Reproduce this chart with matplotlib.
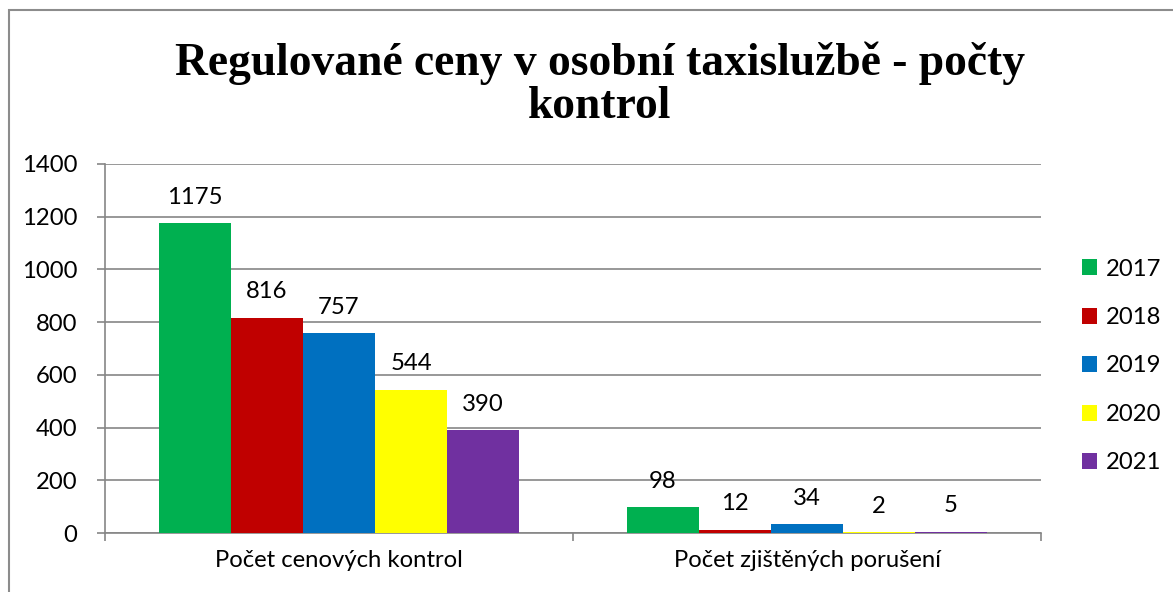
import matplotlib
matplotlib.use("Agg")
import matplotlib.pyplot as plt
from matplotlib.patches import Rectangle
import numpy as np

categories = ["Počet cenových kontrol", "Počet zjištěných porušení"]
years = ["2017", "2018", "2019", "2020", "2021"]
v2017 = [1175, 98]
v2018 = [816, 12]
v2019 = [757, 34]
v2020 = [544, 2]
v2021 = [390, 5]
series = [v2017, v2018, v2019, v2020, v2021]
colors = ["#00B050", "#C00000", "#0070C0", "#FFFF00", "#7030A0"]
yticks = [0, 200, 400, 600, 800, 1000, 1200, 1400]
title_lines = ["Regulované ceny v osobní taxislužbě - počty", "kontrol"]

W, H = 1173, 592
fig = plt.figure(figsize=(W / 100, H / 100), dpi=100)
ax = fig.add_axes([105 / W, 59 / H, 936 / W, 369 / H])

font = "Lato"
fs = 17.2
grid_c = "#868686"

x = np.arange(len(categories))
w = 1 / 6.5
for i, (vals, c, yr) in enumerate(zip(series, colors, years)):
    xs = x + (i - 2) * w
    ax.bar(xs, vals, width=w, color=c, label=yr, zorder=3, linewidth=0)
    for xi, v in zip(xs, vals):
        ax.annotate(str(v), (xi, v), xytext=(0, 26), textcoords="offset pixels",
                    ha="center", va="center", fontsize=fs, family=font, color="black")

ax.set_xlim(-0.5, 1.5)
ax.set_ylim(0, 1400)
ax.set_yticks(yticks)
ax.set_yticklabels([str(t) for t in yticks], fontsize=fs, family=font)
ax.set_xticks([-0.5, 0.5, 1.5])
ax.set_xticklabels([])
ax.set_xticks(x, minor=True)
ax.set_xticklabels(categories, minor=True, fontsize=fs, family=font)
ax.tick_params(axis="x", which="minor", length=0, pad=12)
ax.tick_params(axis="x", which="major", length=6, width=1.2, color=grid_c, direction="out")
ax.tick_params(axis="y", length=6, width=1.2, color=grid_c, direction="out", pad=14)
ax.grid(axis="y", color=grid_c, linewidth=1.2, zorder=0)
for s in ["top", "right"]:
    ax.spines[s].set_visible(False)
for s in ["left", "bottom"]:
    ax.spines[s].set_color(grid_c)
    ax.spines[s].set_linewidth(1.2)

for k, line in enumerate(title_lines):
    fig.text(600 / W, 1 - (63 + 44 * k) / H, line, ha="center", va="center", fontsize=32.8,
             family="Liberation Serif", fontweight="bold")

fig.legend(loc="center left", bbox_to_anchor=(1060 / W, 1 - 366 / H), frameon=False,
           prop={"family": font, "size": fs}, handlelength=0.65, handleheight=0.65,
           handletextpad=0.35, labelspacing=1.15)

fig.patches.append(Rectangle((9 / W, -0.1), 1.2, 1 - 10 / H + 0.1, transform=fig.transFigure,
                             fill=False, edgecolor="#8c8c8c", linewidth=1.5))

fig.savefig("out.png", dpi=100)
